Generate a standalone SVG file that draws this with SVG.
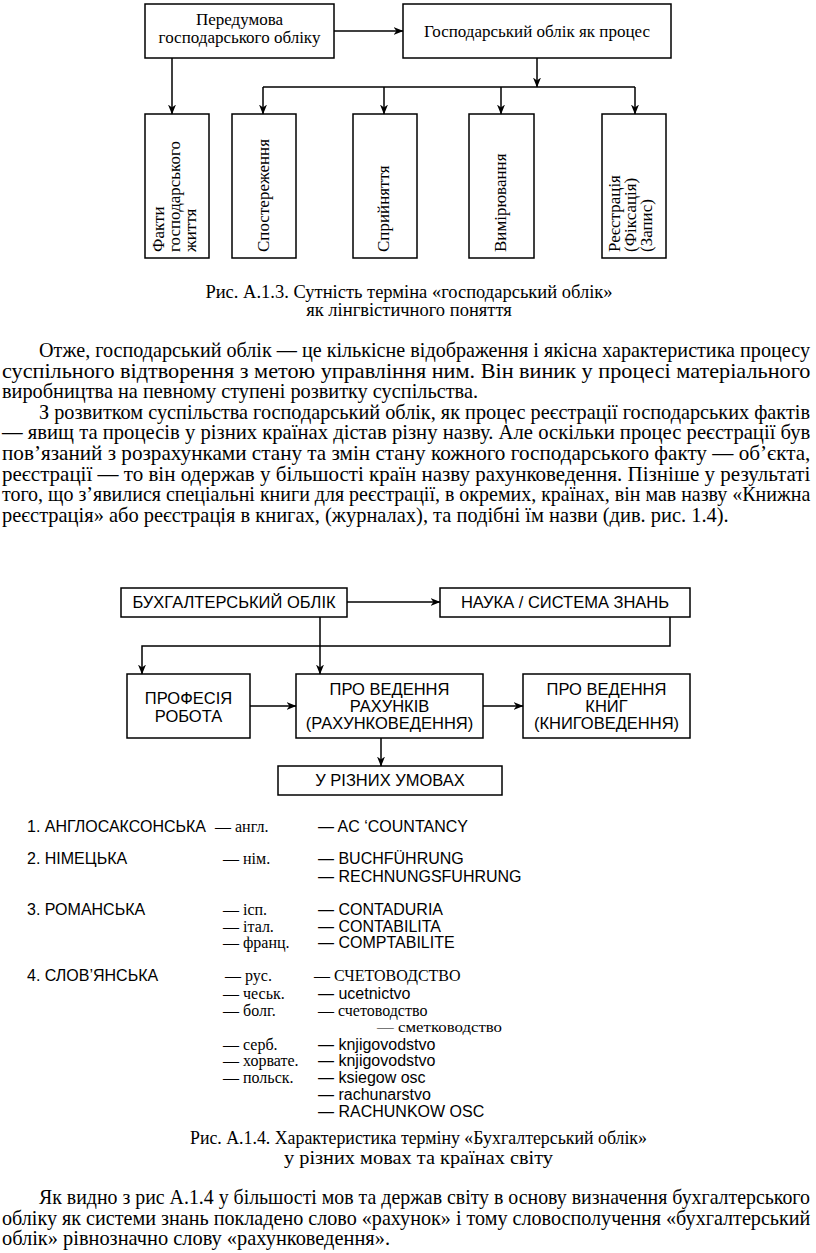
<svg xmlns="http://www.w3.org/2000/svg" width="816" height="1253" viewBox="0 0 816 1253">
<style>
.box{fill:none;stroke:#000;stroke-width:1.5}
.ln{fill:none;stroke:#000;stroke-width:1.5}
.arr{marker-end:url(#ah)}
.sf{font-family:"Liberation Serif","Times New Roman",serif;fill:#000}
.ss{font-family:"Liberation Sans",Arial,sans-serif;fill:#000}
.t16{font-size:17px}
.bx{font-size:16.5px}
.p{font-size:20.5px}
.li{font-size:16px}
.c{text-anchor:middle}
</style>
<defs>
<marker id="ah" markerWidth="10" markerHeight="10" refX="9.5" refY="5" orient="auto" markerUnits="userSpaceOnUse">
<path d="M0,1 L10,5 L0,9 L3,5 z" fill="#000"/>
</marker>
</defs>
<rect x="0" y="0" width="816" height="1253" fill="#fff"/>

<!-- Figure A.1.3 -->
<g id="connectors1">
<line class="ln arr" x1="334" y1="31" x2="403" y2="31"/>
<line class="ln arr" x1="172" y1="58" x2="172" y2="114"/>
<line class="ln arr" x1="537" y1="58" x2="537" y2="87"/>
<line class="ln" x1="263" y1="87" x2="635" y2="87"/>
<line class="ln arr" x1="263" y1="87" x2="263" y2="114"/>
<line class="ln arr" x1="384" y1="87" x2="384" y2="114"/>
<line class="ln arr" x1="501" y1="87" x2="501" y2="114"/>
<line class="ln arr" x1="635" y1="87" x2="635" y2="114"/>
</g>
<g id="n-peredumova">
<rect class="box" x="145" y="4" width="189" height="54"/>
<text class="sf t16 c" x="239.5" y="25">Передумова</text>
<text class="sf t16 c" x="239.5" y="43">господарського обліку</text>
</g>
<g id="n-protses">
<rect class="box" x="403" y="4" width="268" height="54"/>
<text class="sf t16 c" x="537" y="37">Господарський облік як процес</text>
</g>
<g id="n-fakty">
<rect class="box" x="145" y="114" width="64" height="144"/>
<text class="sf t16" transform="translate(164,252) rotate(-90)">Факти</text>
<text class="sf t16" transform="translate(180,252) rotate(-90)">господарського</text>
<text class="sf t16" transform="translate(196,252) rotate(-90)">життя</text>
</g>
<g id="n-sposterezhennia">
<rect class="box" x="232" y="114" width="64" height="144"/>
<text class="sf t16" transform="translate(269,252) rotate(-90)">Спостереження</text>
</g>
<g id="n-spryiniattia">
<rect class="box" x="353" y="114" width="64" height="144"/>
<text class="sf t16" transform="translate(389,252) rotate(-90)">Сприйняття</text>
</g>
<g id="n-vymiriuvannia">
<rect class="box" x="469" y="114" width="65" height="144"/>
<text class="sf t16" transform="translate(506,252) rotate(-90)">Вимірювання</text>
</g>
<g id="n-reiestratsiia">
<rect class="box" x="602" y="114" width="64" height="144"/>
<text class="sf t16" transform="translate(620,252) rotate(-90)">Реєстрація</text>
<text class="sf t16" transform="translate(636,252) rotate(-90)">(Фіксація)</text>
<text class="sf t16" transform="translate(652,252) rotate(-90)">(Запис)</text>
</g>
<text class="sf c" font-size="18.5" x="409" y="298">Рис. А.1.3. Сутність терміна «господарський облік»</text>
<text class="sf c" font-size="18.5" x="409" y="316">як лінгвістичного поняття</text>

<!-- Paragraphs (condensed serif via horizontal scale) -->
<g class="sf p" transform="scale(0.85 1)">
<text x="45.88" y="357" textLength="907" lengthAdjust="spacingAndGlyphs">Отже, господарський облік — це кількісне відображення і якісна характеристика процесу</text>
<text x="2.35" y="377.6" textLength="951" lengthAdjust="spacingAndGlyphs">суспільного відтворення з метою управління ним. Він виник у процесі матеріального</text>
<text x="2.35" y="398.2" textLength="560" lengthAdjust="spacingAndGlyphs">виробництва на певному ступені розвитку суспільства.</text>
<text x="45.88" y="418.8" textLength="907" lengthAdjust="spacingAndGlyphs">З розвитком суспільства господарський облік, як процес реєстрації господарських фактів</text>
<text x="2.35" y="439.4" textLength="951" lengthAdjust="spacingAndGlyphs">— явищ та процесів у різних країнах дістав різну назву. Але оскільки процес реєстрації був</text>
<text x="2.35" y="460" textLength="951" lengthAdjust="spacingAndGlyphs">пов’язаний з розрахунками стану та змін стану кожного господарського факту — об’єкта,</text>
<text x="2.35" y="480.6" textLength="951" lengthAdjust="spacingAndGlyphs">реєстрації — то він одержав у більшості країн назву рахунковедення. Пізніше у результаті</text>
<text x="2.35" y="501.2" textLength="951" lengthAdjust="spacingAndGlyphs">того, що з’явилися спеціальні книги для реєстрації, в окремих, країнах, він мав назву «Книжна</text>
<text x="2.35" y="521.8" textLength="855" lengthAdjust="spacingAndGlyphs">реєстрація» або реєстрація в книгах, (журналах), та подібні їм назви (див. рис. 1.4).</text>
</g>

<!-- Figure A.1.4 -->
<g id="connectors2">
<line class="ln arr" x1="347" y1="602" x2="440" y2="602"/>
<line class="ln arr" x1="320" y1="617" x2="320" y2="674"/>
<polyline class="ln arr" points="670,617 670,646 142,646 142,674"/>
<line class="ln arr" x1="250" y1="706" x2="296" y2="706"/>
<line class="ln arr" x1="483" y1="706" x2="523" y2="706"/>
<line class="ln arr" x1="381" y1="738" x2="381" y2="766"/>
</g>
<g id="n-bukh">
<rect class="box" x="121" y="588" width="226" height="29"/>
<text class="ss bx c" x="234" y="608">БУХГАЛТЕРСЬКИЙ ОБЛІК</text>
</g>
<g id="n-nauka">
<rect class="box" x="440" y="588" width="250" height="29"/>
<text class="ss bx c" x="565" y="608">НАУКА / СИСТЕМА ЗНАНЬ</text>
</g>
<g id="n-profesiia">
<rect class="box" x="127" y="674" width="123" height="64"/>
<text class="ss bx c" x="188.5" y="704">ПРОФЕСІЯ</text>
<text class="ss bx c" x="188.5" y="722">РОБОТА</text>
</g>
<g id="n-rakhunky">
<rect class="box" x="296" y="674" width="187" height="64"/>
<text class="ss bx c" x="389.5" y="695">ПРО ВЕДЕННЯ</text>
<text class="ss bx c" x="389.5" y="712">РАХУНКІВ</text>
<text class="ss bx c" x="389.5" y="729">(РАХУНКОВЕДЕННЯ)</text>
</g>
<g id="n-knyhy">
<rect class="box" x="523" y="674" width="167" height="64"/>
<text class="ss bx c" x="606.5" y="695">ПРО ВЕДЕННЯ</text>
<text class="ss bx c" x="606.5" y="712">КНИГ</text>
<text class="ss bx c" x="606.5" y="729">(КНИГОВЕДЕННЯ)</text>
</g>
<g id="n-umovy">
<rect class="box" x="278" y="766" width="224" height="29"/>
<text class="ss bx c" x="390" y="786">У РІЗНИХ УМОВАХ</text>
</g>

<!-- List -->
<g class="li">
<text class="ss" x="27" y="832">1. АНГЛОСАКСОНСЬКА</text>
<text class="sf" x="215" y="832">— англ.</text>
<text class="ss" x="318" y="832">— AC ‘COUNTANCY</text>
<text class="ss" x="27" y="864">2. НІМЕЦЬКА</text>
<text class="sf" x="223" y="864">— нім.</text>
<text class="ss" x="318" y="864">— BUCHFÜHRUNG</text>
<text class="ss" x="318" y="882">— RECHNUNGSFUHRUNG</text>
<text class="ss" x="27" y="915">3. РОМАНСЬКА</text>
<text class="sf" x="223" y="915">— ісп.</text>
<text class="ss" x="318" y="915">— CONTADURIA</text>
<text class="sf" x="223" y="932">— італ.</text>
<text class="ss" x="318" y="932">— CONTABILITA</text>
<text class="sf" x="223" y="948">— франц.</text>
<text class="ss" x="318" y="948">— COMPTABILITE</text>
<text class="ss" x="27" y="981">4. СЛОВ’ЯНСЬКА</text>
<text class="sf" x="225" y="981">— рус.</text>
<text class="sf" x="314" y="981">— СЧЕТОВОДСТВО</text>
<text class="sf" x="223" y="999">— чеськ.</text>
<text class="ss" x="318" y="999">— ucetnictvo</text>
<text class="sf" x="223" y="1016">— болг.</text>
<text class="sf" x="318" y="1016">— счетоводство</text>
<text class="sf" x="377" y="1032" font-size="15.5" textLength="125" lengthAdjust="spacingAndGlyphs">— сметководство</text>
<text class="sf" x="223" y="1050">— серб.</text>
<text class="ss" x="318" y="1050">— knjigovodstvo</text>
<text class="sf" x="223" y="1066">— хорвате.</text>
<text class="ss" x="318" y="1066">— knjigovodstvo</text>
<text class="sf" x="223" y="1083">— польск.</text>
<text class="ss" x="318" y="1083">— ksiegow osc</text>
<text class="ss" x="318" y="1100">— rachunarstvo</text>
<text class="ss" x="318" y="1117">— RACHUNKOW OSC</text>
</g>

<g class="sf" font-size="19" transform="scale(0.85 1)">
<text x="223.5" y="1144" textLength="537.6" lengthAdjust="spacingAndGlyphs">Рис. А.1.4. Характеристика терміну «Бухгалтерський облік»</text>
<text x="334.1" y="1164" textLength="316.5" lengthAdjust="spacingAndGlyphs">у різних мовах та країнах світу</text>
</g>

<g class="sf p" transform="scale(0.85 1)">
<text x="45.88" y="1204" textLength="907" lengthAdjust="spacingAndGlyphs">Як видно з рис А.1.4 у більшості мов та держав світу в основу визначення бухгалтерського</text>
<text x="2.35" y="1224.6" textLength="951" lengthAdjust="spacingAndGlyphs">обліку як системи знань покладено слово «рахунок» і тому словосполучення «бухгалтерський</text>
<text x="2.35" y="1245" textLength="456.5" lengthAdjust="spacingAndGlyphs">облік» рівнозначно слову «рахунковедення».</text>
</g>
</svg>
